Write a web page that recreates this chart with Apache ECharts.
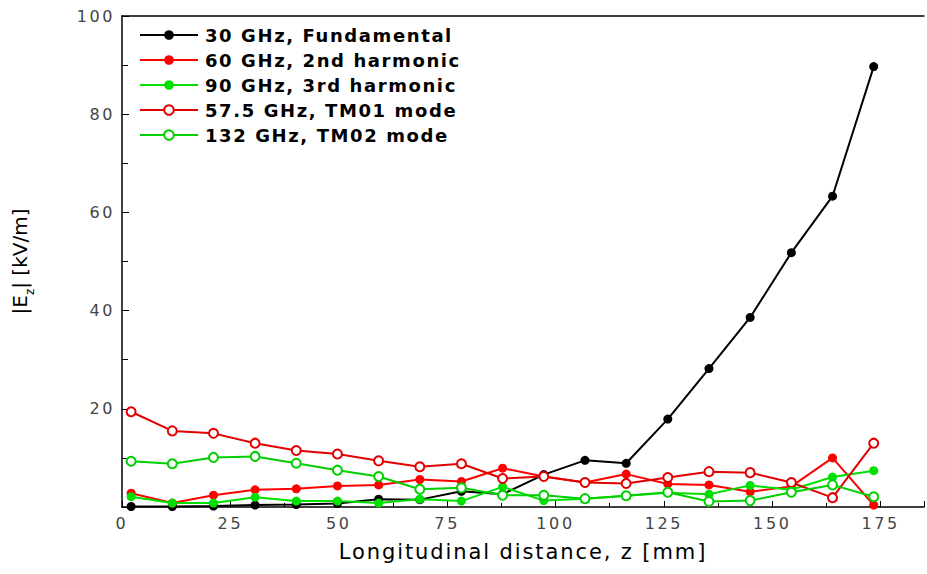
<!DOCTYPE html>
<html>
<head>
<meta charset="utf-8">
<script src="https://cdn.jsdelivr.net/npm/echarts@6/dist/echarts.min.js"></script>
<style>
  html, body { margin: 0; padding: 0; background: #fff; }
  #chart { width: 927px; height: 574px; }
  #chart text[style*="18px"] { letter-spacing: 1.6px; }
  #chart text[style*="16px"] { letter-spacing: 2.6px; }
  #chart text[style*="21px"] { letter-spacing: 1.9px; }
</style>
</head>
<body>
<div id="chart"></div>
<script>
// Longitudinal positions z [mm]
const zPos = [2.1, 11.6, 21.1, 30.7, 40.2, 49.7, 59.2, 68.7, 78.3, 87.8, 97.3, 106.8, 116.3, 125.9, 135.4, 144.9, 154.4, 163.9, 173.4];
// |Ez| [kV/m]
const fund30 = [0.1, 0.1, 0.2, 0.4, 0.5, 0.7, 1.6, 1.5, 3.2, 2.6, 6.6, 9.5, 8.9, 17.9, 28.2, 38.6, 51.8, 63.3, 89.7];
const harm60 = [2.8, 0.8, 2.4, 3.5, 3.7, 4.3, 4.5, 5.6, 5.2, 7.9, 6.2, 5.0, 6.7, 4.7, 4.5, 3.1, 4.2, 10.0, 0.4];
const harm90 = [2.1, 0.8, 0.8, 2.0, 1.2, 1.2, 0.8, 1.6, 1.2, 4.1, 1.3, 1.7, 2.3, 2.9, 2.6, 4.4, 3.5, 6.1, 7.4];
const tm01 = [19.4, 15.5, 15.0, 13.0, 11.5, 10.8, 9.4, 8.2, 8.8, 5.8, 6.2, 5.0, 4.8, 6.0, 7.2, 7.0, 5.0, 1.9, 13.0];
const tm02 = [9.3, 8.8, 10.1, 10.3, 8.9, 7.5, 6.2, 3.6, 3.9, 2.4, 2.4, 1.7, 2.3, 3.0, 1.1, 1.3, 3.0, 4.5, 2.1];
const seriesNames = ['30 GHz, Fundamental', '60 GHz, 2nd harmonic', '90 GHz, 3rd harmonic', '57.5 GHz, TM01 mode', '132 GHz, TM02 mode'];
const xTicks = [0, 25, 50, 75, 100, 125, 150, 175];
const yTicks = [20, 40, 60, 80, 100];

const FONT = 'DejaVu Sans';
const pair = arr => arr.map((v, i) => [zPos[i], v]);

function mk(name, data, color, symbol) {
  return {
    name: name,
    type: 'line',
    data: pair(data),
    symbol: symbol,
    symbolSize: 9,
    showSymbol: true,
    lineStyle: { color: color, width: 2 },
    itemStyle: { color: color, borderWidth: symbol === 'emptyCircle' ? 1.5 : 0 },
    emphasis: { disabled: true },
    animation: false
  };
}

const chart = echarts.init(document.getElementById('chart'), null, { renderer: 'svg' });
chart.setOption({
  animation: false,
  grid: { left: 122, right: 2, top: 16, bottom: 67, show: false },
  legend: {
    orient: 'vertical',
    left: 134,
    top: 21,
    itemWidth: 58,
    itemHeight: 12,
    itemGap: 7,
    data: seriesNames,
    textStyle: { fontFamily: FONT, fontSize: 18, fontWeight: 'bold', color: '#000', padding: [0, 0, 0, 2] }
  },
  xAxis: [{
    type: 'value',
    position: 'bottom',
    min: 0, max: 185, interval: 25,
    axisLine: { show: true, lineStyle: { color: '#000', width: 1.5 } },
    axisTick: { show: true, inside: true, length: 6, lineStyle: { color: '#000', width: 1 } },
    minorTick: { show: true, splitNumber: 2, length: 4, lineStyle: { color: '#000', width: 1 } },
    splitLine: { show: false },
    axisLabel: {
      margin: 8, color: '#444', fontFamily: FONT, fontSize: 16,
      formatter: v => (xTicks.indexOf(v) >= 0 ? String(v) : '')
    },
    name: 'Longitudinal distance, z [mm]',
    nameLocation: 'middle',
    nameGap: 34,
    nameTextStyle: { fontFamily: FONT, fontSize: 21, color: '#000' }
  }, {
    type: 'value',
    position: 'top',
    min: 0, max: 185,
    axisLine: { show: true, lineStyle: { color: '#000', width: 1.5 } },
    axisTick: { show: false },
    axisLabel: { show: false },
    splitLine: { show: false }
  }],
  yAxis: {
    type: 'value',
    min: 0, max: 100, interval: 20,
    axisLine: { show: true, lineStyle: { color: '#000', width: 1.5 } },
    axisTick: { show: true, inside: true, length: 7, lineStyle: { color: '#000', width: 1 } },
    minorTick: { show: true, splitNumber: 2, length: 6, lineStyle: { color: '#000', width: 1 } },
    splitLine: { show: false },
    axisLabel: {
      margin: 7, color: '#444', fontFamily: FONT, fontSize: 16,
      formatter: v => (yTicks.indexOf(v) >= 0 ? String(v) : '')
    },
    name: '|E{sub|z}| [kV/m]',
    nameLocation: 'middle',
    nameRotate: 90,
    nameGap: 92,
    nameTextStyle: {
      fontFamily: FONT, fontSize: 20, color: '#000',
      rich: { sub: { fontFamily: FONT, fontSize: 12, color: '#000', verticalAlign: 'bottom', padding: [0, 0, -6, 0] } }
    }
  },
  series: [
    mk(seriesNames[0], fund30, '#000000', 'circle'),
    mk(seriesNames[1], harm60, '#ff0000', 'circle'),
    mk(seriesNames[2], harm90, '#00e000', 'circle'),
    mk(seriesNames[3], tm01, '#e00000', 'emptyCircle'),
    mk(seriesNames[4], tm02, '#00d000', 'emptyCircle')
  ]
});
</script>
</body>
</html>
